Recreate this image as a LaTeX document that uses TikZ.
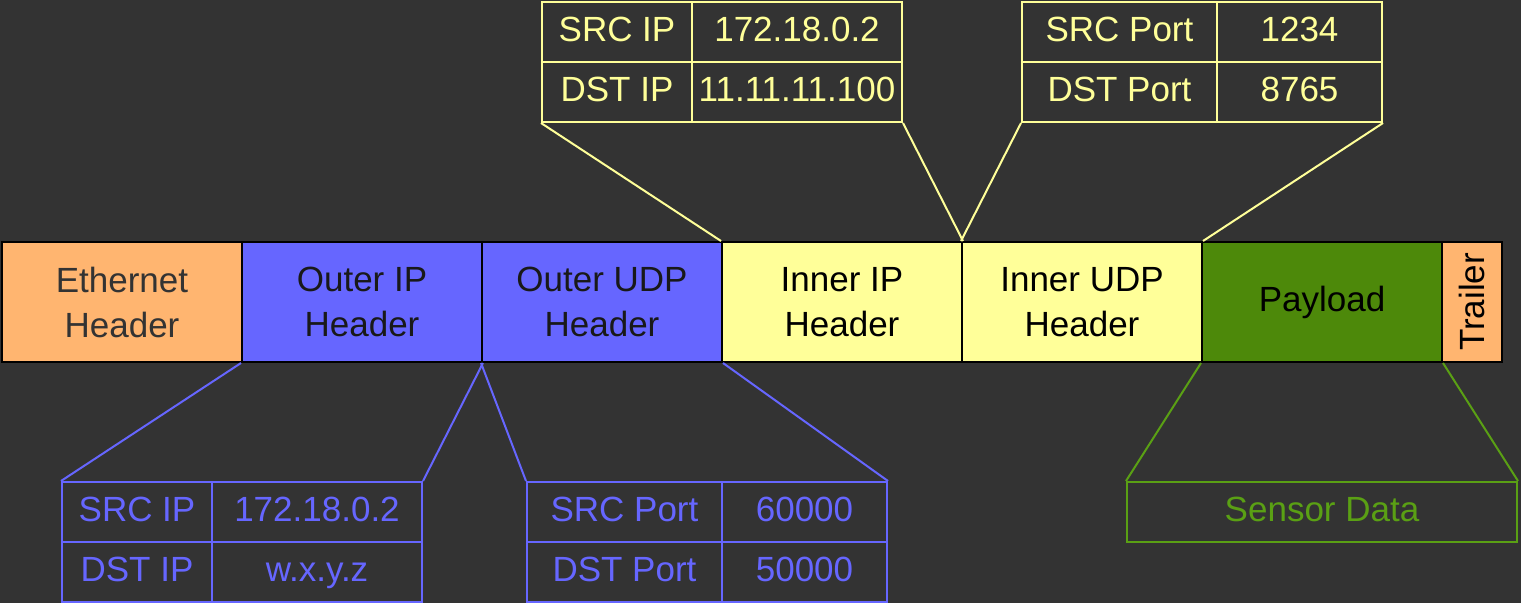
\documentclass[tikz,border=0pt]{standalone}
\usepackage{fontspec}
\setmainfont{Liberation Sans}
\definecolor{cbg}{RGB}{51,51,51}
\definecolor{corange}{RGB}{255,181,112}
\definecolor{cblue}{RGB}{102,102,255}
\definecolor{cyellow}{RGB}{255,255,153}
\definecolor{cgreen}{RGB}{77,137,10}
\definecolor{cgreenl}{RGB}{90,160,20}

\tikzset{
  seg/.style={draw=black,line width=2pt,minimum height=120pt,anchor=north west,
    align=center,font=\fontsize{35}{45}\selectfont,inner sep=0pt},
  cell/.style={draw=#1,line width=2pt,minimum height=60pt,anchor=north west,
    text=#1,font=\fontsize{35}{40}\selectfont,inner sep=0pt,
    text height=27pt,text depth=9pt},
  zoom/.style={draw=#1,line width=2pt}
}

\begin{document}
\begin{tikzpicture}[x=1pt,y=-1pt]
  \fill[cbg] (0,0) rectangle (1521,603);
  \useasboundingbox (0,0) rectangle (1521,603);
  % packet
  \node[seg,fill=corange,minimum width=240pt,text=cbg] (eth) at (1,241) {Ethernet\\Header};
  \node[seg,fill=cblue,minimum width=240pt,text=black!90] (oip) at (241,241) {Outer IP\\Header};
  \node[seg,fill=cblue,minimum width=240pt,text=black!90] (oudp) at (481,241) {Outer UDP\\Header};
  \node[seg,fill=cyellow,minimum width=240pt] (iip) at (721,241) {Inner IP\\Header};
  \node[seg,fill=cyellow,minimum width=240pt] (iudp) at (961,241) {Inner UDP\\Header};
  \node[seg,fill=cgreen,minimum width=240pt] (pay) at (1201,241) {Payload};
  \node[seg,fill=corange,minimum width=60pt] (trl) at (1441,241) {\rotatebox{90}{Trailer}};
  % inner IP table
  \node[cell=cyellow,minimum width=150pt] (isrc) at (541,1) {SRC IP};
  \node[cell=cyellow,minimum width=210pt] (isrcv) at (691,1) {172.18.0.2};
  \node[cell=cyellow,minimum width=150pt] (idst) at (541,61) {DST IP};
  \node[cell=cyellow,minimum width=210pt] (idstv) at (691,61) {11.11.11.100};
  % inner UDP table
  \node[cell=cyellow,minimum width=195pt] (isp) at (1021,1) {SRC Port};
  \node[cell=cyellow,minimum width=165pt] (ispv) at (1216,1) {1234};
  \node[cell=cyellow,minimum width=195pt] (idp) at (1021,61) {DST Port};
  \node[cell=cyellow,minimum width=165pt] (idpv) at (1216,61) {8765};
  % outer IP table
  \node[cell=cblue,minimum width=150pt] (osrc) at (61,481) {SRC IP};
  \node[cell=cblue,minimum width=210pt] (osrcv) at (211,481) {172.18.0.2};
  \node[cell=cblue,minimum width=150pt] (odst) at (61,541) {DST IP};
  \node[cell=cblue,minimum width=210pt] (odstv) at (211,541) {w.x.y.z};
  % outer UDP table
  \node[cell=cblue,minimum width=195pt] (osp) at (526,481) {SRC Port};
  \node[cell=cblue,minimum width=165pt] (ospv) at (721,481) {60000};
  \node[cell=cblue,minimum width=195pt] (odp) at (526,541) {DST Port};
  \node[cell=cblue,minimum width=165pt] (odpv) at (721,541) {50000};
  % payload
  \node[cell=cgreenl,minimum width=390pt] (sens) at (1126,481) {Sensor Data};
  % zoom lines
  \draw[zoom=cyellow] (idst.south west) -- (iip.north west);
  \draw[zoom=cyellow] (idstv.south east) -- (iip.north east);
  \draw[zoom=cyellow] (idp.south west) -- (iudp.north west);
  \draw[zoom=cyellow] (idpv.south east) -- (iudp.north east);
  \draw[zoom=cblue] (osrc.north west) -- (oip.south west);
  \draw[zoom=cblue] (osrcv.north east) -- (oip.south east);
  \draw[zoom=cblue] (osp.north west) -- (oudp.south west);
  \draw[zoom=cblue] (ospv.north east) -- (oudp.south east);
  \draw[zoom=cgreenl] (sens.north west) -- (pay.south west);
  \draw[zoom=cgreenl] (sens.north east) -- (pay.south east);
\end{tikzpicture}
\end{document}
